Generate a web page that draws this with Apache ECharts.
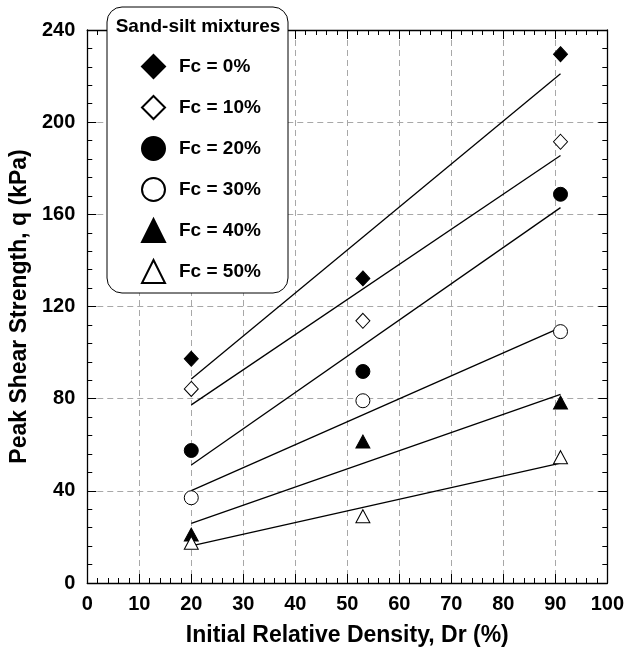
<!DOCTYPE html>
<html>
<head>
<meta charset="utf-8">
<script src="https://cdn.jsdelivr.net/npm/echarts@6/dist/echarts.min.js"></script>
<style>
html,body{margin:0;padding:0;background:#fff;}
#chart{width:627px;height:653px;}
</style>
</head>
<body>
<div id="chart"></div>
<script>
// ---- data ----
const densities = [20, 53, 91];
const seriesNames = ['Fc = 0%', 'Fc = 10%', 'Fc = 20%', 'Fc = 30%', 'Fc = 40%', 'Fc = 50%'];
const fc0  = [97.3, 132.2, 229.5];
const fc10 = [84.2, 113.8, 191.5];
const fc20 = [57.5, 91.8, 168.7];
const fc30 = [37.0, 79.1, 109.1];
const fc40 = [21.0, 61.4, 78.3];
const fc50 = [17.5, 29.0, 54.6];
const fitDensities = [20, 91];
const fitStart = [88.5, 77.3, 51.2, 40.1, 25.9, 16.1];
const fitEnd   = [221.0, 185.5, 162.9, 110.8, 81.9, 52.0];
const xTicks = [0, 10, 20, 30, 40, 50, 60, 70, 80, 90, 100];
const yTicks = [0, 40, 80, 120, 160, 200, 240];

const allValues = [fc0, fc10, fc20, fc30, fc40, fc50];
const symbols = ['diamond', 'diamond', 'circle', 'circle', 'triangle', 'triangle'];
const filled = [true, false, true, false, true, false];

const FONT = "'Liberation Sans', Arial, sans-serif";

const chart = echarts.init(document.getElementById('chart'), null, {renderer: 'canvas'});

const series = [];
allValues.forEach((vals, i) => {
  series.push({
    name: 'fit' + i,
    type: 'line',
    data: fitDensities.map((d, k) => [d, k === 0 ? fitStart[i] : fitEnd[i]]),
    showSymbol: false,
    symbol: 'none',
    silent: true,
    lineStyle: {color: '#000', width: 1.3},
    z: 3
  });
});
allValues.forEach((vals, i) => {
  series.push({
    name: seriesNames[i],
    type: 'scatter',
    data: densities.map((d, k) => [d, vals[k]]),
    symbol: symbols[i],
    symbolSize: symbols[i] === 'triangle' ? [14, 13] : (symbols[i] === 'diamond' ? [14, 15] : 14),
    itemStyle: {
      color: filled[i] ? '#000' : '#fff',
      borderColor: '#000',
      borderWidth: 1,
      opacity: 1
    },
    z: 5
  });
});

const option = {
  animation: false,
  backgroundColor: '#fff',
  textStyle: {fontFamily: FONT},
  grid: {left: 87, right: 16, top: 30, bottom: 70, containLabel: false},
  xAxis: [{
    type: 'value', min: 0, max: 100, interval: 10, position: 'bottom',
    name: 'Initial Relative Density, Dr (%)', nameLocation: 'middle', nameGap: 41,
    nameTextStyle: {fontFamily: FONT, fontWeight: 'bold', fontSize: 23, color: '#000'},
    axisLine: {show: true, onZero: false, lineStyle: {color: '#000', width: 1.3}},
    axisTick: {show: true, inside: true, length: 9, lineStyle: {color: '#000'}},
    minorTick: {show: true, splitNumber: 5, length: 5, lineStyle: {color: '#000'}},
    axisLabel: {fontFamily: FONT, fontWeight: 'bold', fontSize: 20, color: '#000', margin: 11,
      formatter: v => xTicks.includes(v) ? String(v) : ''},
    splitLine: {show: true, lineStyle: {color: '#a8a8a8', type: [6, 4], width: 1}}
  }, {
    type: 'value', min: 0, max: 100, interval: 10, position: 'top',
    axisLine: {show: true, onZero: false, lineStyle: {color: '#000', width: 1.3}},
    axisTick: {show: true, inside: true, length: 9, lineStyle: {color: '#000'}},
    minorTick: {show: true, splitNumber: 5, length: 5, lineStyle: {color: '#000'}},
    axisLabel: {show: false},
    splitLine: {show: false}
  }],
  yAxis: [{
    type: 'value', min: 0, max: 240, interval: 40, position: 'left',
    name: 'Peak Shear Strength, q (kPa)', nameLocation: 'middle', nameGap: 47,
    nameTextStyle: {fontFamily: FONT, fontWeight: 'bold', fontSize: 23, color: '#000'},
    axisLine: {show: true, onZero: false, lineStyle: {color: '#000', width: 1.3}},
    axisTick: {show: true, inside: true, length: 9, lineStyle: {color: '#000'}},
    minorTick: {show: true, splitNumber: 5, length: 5, lineStyle: {color: '#000'}},
    axisLabel: {fontFamily: FONT, fontWeight: 'bold', fontSize: 20, color: '#000', margin: 12,
      formatter: v => yTicks.includes(v) ? String(v) : ''},
    splitLine: {show: true, lineStyle: {color: '#a8a8a8', type: [6, 4], width: 1}}
  }, {
    type: 'value', min: 0, max: 240, interval: 40, position: 'right',
    axisLine: {show: true, onZero: false, lineStyle: {color: '#000', width: 1.3}},
    axisTick: {show: true, inside: true, length: 9, lineStyle: {color: '#000'}},
    minorTick: {show: true, splitNumber: 5, length: 5, lineStyle: {color: '#000'}},
    axisLabel: {show: false},
    splitLine: {show: false}
  }],
  legend: {
    data: seriesNames,
    orient: 'vertical',
    left: 141,
    top: 54,
    itemWidth: 23,
    itemHeight: 23,
    itemGap: 16,
    padding: 0,
    selectedMode: false,
    z: 20,
    textStyle: {fontFamily: FONT, fontWeight: 'bold', fontSize: 19, color: '#000', padding: [0, 0, 0, 9]}
  },
  graphic: [{
    type: 'rect',
    z: 10,
    shape: {x: 107, y: 7, width: 181, height: 286, r: 15},
    style: {fill: '#fff', stroke: '#000', lineWidth: 1}
  }, {
    type: 'text',
    z: 11,
    x: 198, y: 27,
    style: {text: 'Sand-silt mixtures', fill: '#000', font: "bold 19px 'Liberation Sans', Arial, sans-serif",
      textAlign: 'center', textVerticalAlign: 'middle'}
  }],
  series: series
};
chart.setOption(option);
</script>
</body>
</html>
